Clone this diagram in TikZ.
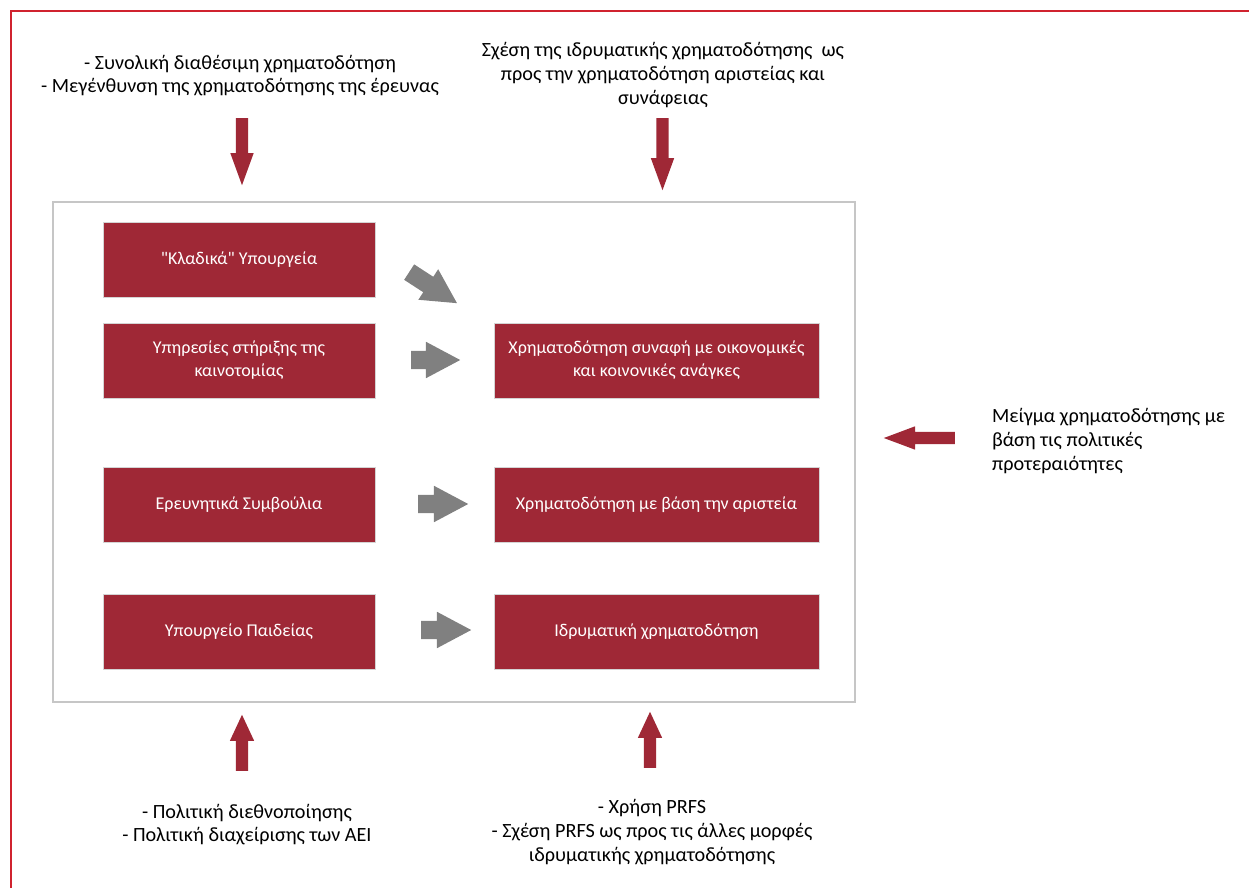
\documentclass[tikz,border=0pt]{standalone}
\usepackage{fontspec}
\setmainfont{Carlito}[Ligatures=TeXOff]
\usetikzlibrary{shapes.arrows}
\definecolor{boxred}{HTML}{9F2836}
\definecolor{framered}{HTML}{D0232F}
\definecolor{arrowgray}{HTML}{808080}
\definecolor{outergray}{HTML}{C6C6C6}
\definecolor{boxedge}{HTML}{D4D4D4}
\begin{document}
\begin{tikzpicture}[x=1pt,y=-1pt,
  redbox/.style={draw=boxedge, line width=1pt, fill=boxred, text=white, align=center, inner sep=0, font=\fontsize{18}{23}\selectfont},
  lbox/.style={redbox, minimum width=272, minimum height=75},
  rbox/.style={redbox, minimum width=325, minimum height=75},
  txt/.style={align=center, font=\fontsize{20.2}{23.8}\selectfont, inner sep=0},
  redarrow/.style={single arrow, fill=boxred, draw=none, inner xsep=0, inner ysep=6, single arrow head extend=5.5, single arrow tip angle=40, anchor=tail},
  uparrow/.style={redarrow, single arrow head extend=6, single arrow tip angle=50, minimum height=56, rotate=90},
  grayarrow/.style={single arrow, fill=arrowgray, draw=none, inner xsep=0, inner ysep=9, single arrow head extend=9, single arrow tip angle=56, anchor=tail},
]
\useasboundingbox (0,0) rectangle (1249,888);
\fill[white] (0,0) rectangle (1249,888);
% outer red frame
\draw[framered, line width=1.6pt] (11,888) -- (11,11) -- (1249,11);
% grey frame
\node[draw=outergray, line width=1.5pt, minimum width=802, minimum height=500, inner sep=0] (frame) at (454,452) {};
% left boxes
\node[lbox] (b1) at (239,259.5) {"Κλαδικά" Υπουργεία};
\node[lbox] (b2) at (239,360.5) {Υπηρεσίες στήριξης της\\καινοτομίας};
\node[lbox] (b3) at (239,504.5) {Ερευνητικά Συμβούλια};
\node[lbox] (b4) at (239,632) {Υπουργείο Παιδείας};
% right boxes
\node[rbox] (rA) at (656.5,360.5) {Χρηματοδότηση συναφή με οικονομικές\\και κοινονικές ανάγκες};
\node[rbox] (rB) at (656.5,504.5) {Χρηματοδότηση με βάση την αριστεία};
\node[rbox] (rC) at (656.5,632) {Ιδρυματική χρηματοδότηση};
% grey arrows
\node[grayarrow, minimum height=57, rotate=-33] (g1) at (409,272) {};
\node[grayarrow, minimum height=49] (g2) at (411,360) {};
\node[grayarrow, minimum height=50] (g3) at (418,504) {};
\node[grayarrow, minimum height=50] (g4) at (421,630) {};
% red arrows
\node[redarrow, minimum height=67, rotate=-90] (a1) at (242,118) {};
\node[redarrow, minimum height=72, rotate=-90] (a2) at (662.5,118) {};
\node[uparrow] (a3) at (242,771) {};
\node[uparrow] (a4) at (650,768) {};
\node[redarrow, minimum height=71, rotate=180, single arrow tip angle=41] (a5) at (955,438) {};
% texts
\node[txt] (t1) at (240,75.5) {- Συνολική διαθέσιμη χρηματοδότηση\\- Μεγένθυνση της χρηματοδότησης της έρευνας};
\node[txt] (t2) at (663,75) {Σχέση της ιδρυματικής χρηματοδότησης\ \ ως\\προς την χρηματοδότηση αριστείας και\\συνάφειας};
\node[txt, align=left, anchor=west] (t3) at (992,441) {Μείγμα χρηματοδότησης με\\βάση τις πολιτικές\\προτεραιότητες};
\node[txt] (t4) at (247,824.5) {- Πολιτική διεθνοποίησης\\- Πολιτική διαχείρισης των ΑΕΙ};
\node[txt] (t5) at (652,832) {- Χρήση PRFS\\- Σχέση PRFS ως προς τις άλλες μορφές\\ιδρυματικής χρηματοδότησης};
\end{tikzpicture}
\end{document}
